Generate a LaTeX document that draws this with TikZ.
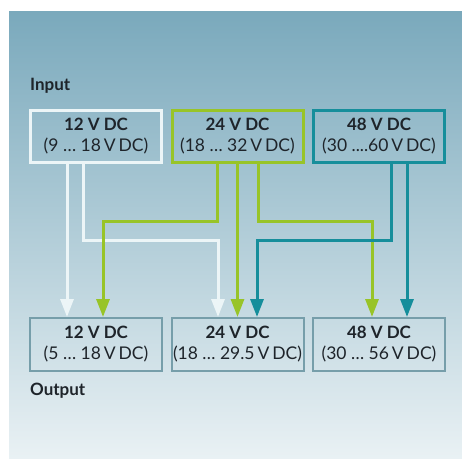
\documentclass[tikz,border=0pt]{standalone}
\usepackage{fontspec}
\setmainfont{Lato}
\usetikzlibrary{arrows.meta,calc}
\definecolor{bgtop}{RGB}{122,169,188}
\definecolor{bgmid}{RGB}{178,206,216}
\definecolor{bgbot}{RGB}{233,241,244}
\definecolor{wline}{RGB}{236,245,247}
\definecolor{gline}{RGB}{152,196,40}
\definecolor{tline}{RGB}{22,142,155}
\definecolor{obox}{RGB}{118,158,170}
\definecolor{txt}{RGB}{30,36,42}
\newcommand{\hd}[1]{{\fontsize{17}{21}\selectfont\bfseries #1}}
\begin{document}
\begin{tikzpicture}[x=1pt,y=-1pt,
  every node/.style={text=txt},
  boxtext/.style={align=center,inner sep=0pt,font=\fontsize{17.5}{21}\selectfont},
  inbox/.style={boxtext,draw,line width=3pt,minimum width=131pt,minimum height=52pt},
  outbox/.style={boxtext,draw=obox,line width=2pt,minimum width=132pt,minimum height=53pt},
  lab/.style={anchor=west,inner sep=0pt,font=\fontsize{17}{19}\selectfont\bfseries},
  conn/.style={line width=3pt,-{Triangle[width=13pt,length=18pt]}}]
\useasboundingbox (0,0) rectangle (462,458);
\shade[top color=bgtop, middle color=bgmid, bottom color=bgbot] (9,11) rectangle (462,458);

\node[lab] (inlab) at (30,86) {Input};
\node[lab] (outlab) at (30,391) {Output};

\node[inbox,draw=wline] (in1) at (96,136) {\hd{12 V DC}\\(9 … 18\,V\,DC)};
\node[inbox,draw=gline] (in2) at (237.5,136) {\hd{24 V DC}\\(18 … 32\,V\,DC)};
\node[inbox,draw=tline] (in3) at (379,136) {\hd{48 V DC}\\(30 ....60\,V\,DC)};

\node[outbox] (out1) at (96,344.5) {\hd{12 V DC}\\(5 … 18\,V\,DC)};
\node[outbox] (out2) at (237.5,344.5) {\hd{24 V DC}\\(18 … 29.5\,V\,DC)};
\node[outbox] (out3) at (379,344.5) {\hd{48 V DC}\\(30 … 56\,V\,DC)};

% white connectors
\draw[conn,wline] ([xshift=-29pt]in1.south) -- ([xshift=-29pt]out1.north);
\draw[conn,wline] ([xshift=-13pt]in1.south) |- ([xshift=-19.5pt]out2.north |- 0,240) -- ([xshift=-19.5pt]out2.north);
% green connectors
\draw[conn,gline] ([xshift=-20.5pt]in2.south) |- ([xshift=7pt]out1.north |- 0,221) -- ([xshift=7pt]out1.north);
\draw[conn,gline] (in2.south) -- (out2.north);
\draw[conn,gline] ([xshift=20.5pt]in2.south) |- ([xshift=-7pt]out3.north |- 0,221) -- ([xshift=-7pt]out3.north);
% teal connectors
\draw[conn,tline] ([xshift=12pt]in3.south) |- ([xshift=19.5pt]out2.north |- 0,240) -- ([xshift=19.5pt]out2.north);
\draw[conn,tline] ([xshift=28pt]in3.south) -- ([xshift=28pt]out3.north);
\end{tikzpicture}
\end{document}
